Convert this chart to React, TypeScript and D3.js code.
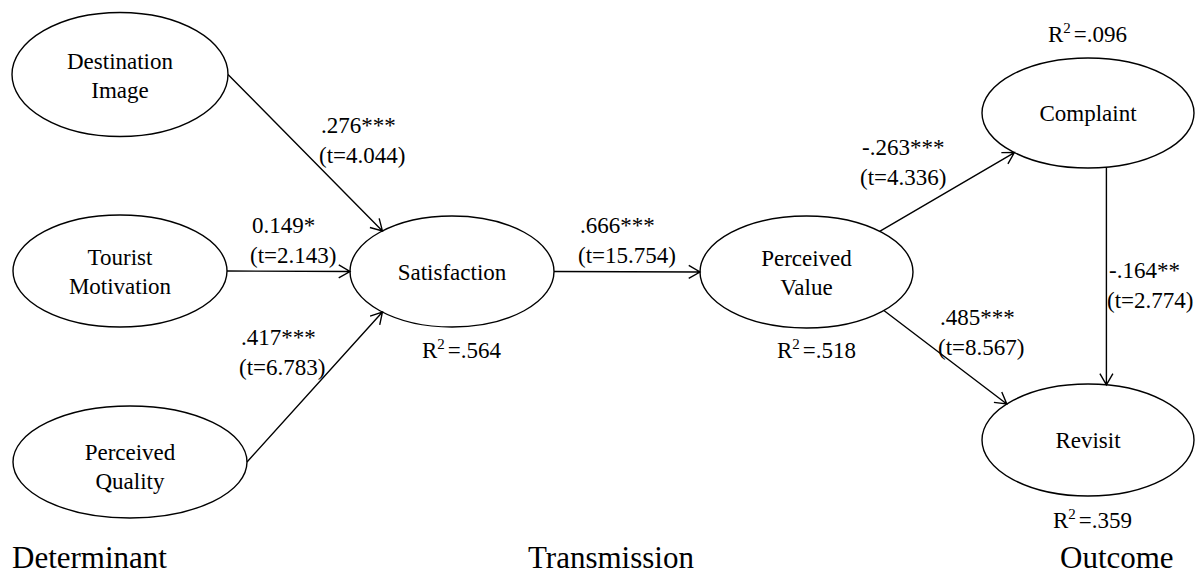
import { useEffect, useRef } from "react";
import * as d3 from "d3";

// Constructs (ellipses) and their labels
const nodeIds = ["DI", "TM", "PQ", "SAT", "PV", "COM", "REV"];
const nodeLabels = [
  ["Destination", "Image"],
  ["Tourist", "Motivation"],
  ["Perceived", "Quality"],
  ["Satisfaction"],
  ["Perceived", "Value"],
  ["Complaint"],
  ["Revisit"],
];

// Structural paths
const pathFrom = ["DI", "TM", "PQ", "SAT", "PV", "PV", "COM"];
const pathTo = ["SAT", "SAT", "SAT", "PV", "COM", "REV", "REV"];
const pathCoef = [".276***", "0.149*", ".417***", ".666***", "-.263***", ".485***", "-.164**"];
const pathT = ["4.044", "2.143", "6.783", "15.754", "4.336", "8.567", "2.774"];

// Explained variance
const r2Nodes = ["SAT", "PV", "COM", "REV"];
const r2Values = [".564", ".518", ".096", ".359"];

const stageLabels = ["Determinant", "Transmission", "Outcome"];

// ---- layout (pixels) ----
const W = 1202;
const H = 574;
const FONT = "Liberation Serif, Times New Roman, DejaVu Serif, serif";

const nodeBox = {
  DI: { cx: 120, cy: 74.5, rx: 108, ry: 62, dy: 0 },
  TM: { cx: 120, cy: 271, rx: 107, ry: 56, dy: 0 },
  PQ: { cx: 130, cy: 462, rx: 117, ry: 56, dy: 4 },
  SAT: { cx: 452, cy: 271.5, rx: 102, ry: 55.5, dy: 0 },
  PV: { cx: 806.5, cy: 272, rx: 106.5, ry: 56, dy: 0 },
  COM: { cx: 1088, cy: 113, rx: 106, ry: 55, dy: 0 },
  REV: { cx: 1088, cy: 440, rx: 106, ry: 56, dy: 0 },
};

// where each arrow leaves / meets the ellipse (degrees, svg orientation)
const pathAnchors = [[0, -133], [0, 180], [0, 133], [0, 180], [-46.6, 134], [43.4, -140], [80, -80]];
const pathLabelPos = [[321, 133], [252, 233], [241, 345], [580, 233], [862, 155], [940, 325], [1109, 278]];
const r2Pos = [[422, 358], [777, 358], [1048, 42], [1053, 528]];
const stagePos = [[12, 568], [528, 568], [1060, 568]];

const onEllipse = (id, deg) => {
  const b = nodeBox[id];
  const a = (deg * Math.PI) / 180;
  return [b.cx + b.rx * Math.cos(a), b.cy + b.ry * Math.sin(a)];
};

export default function App() {
  const ref = useRef(null);

  useEffect(() => {
    document.body.style.margin = "0";
    const svg = d3.select(ref.current);
    svg.selectAll("*").remove();

    svg.append("rect").attr("width", W).attr("height", H).attr("fill", "#fff");

    // Ellipses
    const nodes = svg.selectAll(".node")
      .data(nodeIds)
      .enter()
      .append("g")
      .attr("class", "node");

    nodes.append("ellipse")
      .attr("cx", d => nodeBox[d].cx)
      .attr("cy", d => nodeBox[d].cy)
      .attr("rx", d => nodeBox[d].rx)
      .attr("ry", d => nodeBox[d].ry)
      .attr("fill", "none")
      .attr("stroke", "#000")
      .attr("stroke-width", 1.4);

    nodes.each(function (d, i) {
      const b = nodeBox[d];
      const lines = nodeLabels[i];
      const t = d3.select(this).append("text")
        .attr("text-anchor", "middle")
        .attr("font-size", 23)
        .attr("fill", "#000");
      lines.forEach((ln, k) => {
        const y = lines.length === 1 ? b.cy + 8 : b.cy - 6 + b.dy + k * 29;
        t.append("tspan").attr("x", b.cx).attr("y", y).text(ln);
      });
    });

    // Arrows
    const headLen = 13;
    const headAng = (30 * Math.PI) / 180;
    pathFrom.forEach((from, i) => {
      const [a0, a1] = pathAnchors[i];
      const [x0, y0] = onEllipse(from, a0);
      const [x1, y1] = onEllipse(pathTo[i], a1);
      const ang = Math.atan2(y1 - y0, x1 - x0);
      const p = d3.path();
      p.moveTo(x0, y0);
      p.lineTo(x1, y1);
      p.moveTo(x1 - headLen * Math.cos(ang - headAng), y1 - headLen * Math.sin(ang - headAng));
      p.lineTo(x1, y1);
      p.lineTo(x1 - headLen * Math.cos(ang + headAng), y1 - headLen * Math.sin(ang + headAng));
      svg.append("path")
        .attr("d", p.toString())
        .attr("fill", "none")
        .attr("stroke", "#000")
        .attr("stroke-width", 1.4);

      const [lx, ly] = pathLabelPos[i];
      const t = svg.append("text")
        .attr("font-size", 23)
        .attr("fill", "#000");
      t.append("tspan").attr("x", lx).attr("y", ly).text(pathCoef[i]);
      t.append("tspan").attr("x", lx - 2).attr("y", ly + 30).text(`(t=${pathT[i]})`);
    });

    // R squared
    r2Nodes.forEach((id, i) => {
      const [x, y] = r2Pos[i];
      const t = svg.append("text")
        .attr("x", x)
        .attr("y", y)
        .attr("font-size", 23)
        .attr("fill", "#000");
      t.append("tspan").text("R");
      t.append("tspan").attr("dy", -9).attr("font-size", 15).text("2");
      t.append("tspan").attr("dy", 9).attr("dx", 3).text(`=${r2Values[i]}`);
    });

    // Stage labels
    svg.selectAll(".stage")
      .data(stageLabels)
      .enter()
      .append("text")
      .attr("class", "stage")
      .attr("x", (d, i) => stagePos[i][0])
      .attr("y", (d, i) => stagePos[i][1])
      .attr("font-size", 31)
      .attr("fill", "#000")
      .text(d => d);
  }, []);

  return <svg ref={ref} width={W} height={H} fontFamily={FONT} style={{ display: "block" }} />;
}
